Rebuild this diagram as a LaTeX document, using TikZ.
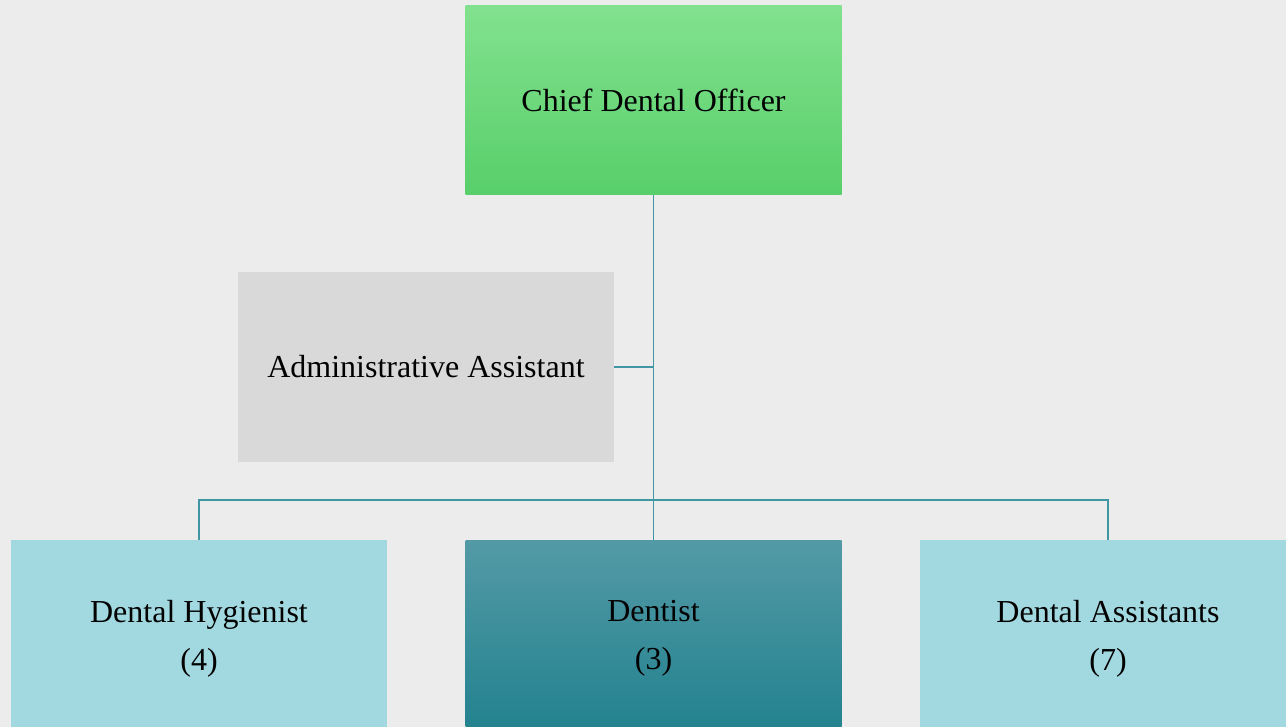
\documentclass[tikz,border=0pt]{standalone}
\usepackage{fontspec}
\setmainfont{Liberation Serif}
\usepackage{xcolor}
\definecolor{paper}{HTML}{ECECEC}
\definecolor{greentop}{HTML}{82E18E}
\definecolor{greenbot}{HTML}{58CF6A}
\definecolor{adminfill}{HTML}{D9D9D9}
\definecolor{lightteal}{HTML}{A2D8E0}
\definecolor{tealtop}{HTML}{539AA6}
\definecolor{tealbot}{HTML}{21818E}
\definecolor{linkteal}{HTML}{3E97A3}
\tikzset{
	box/.style={
			minimum width=376pt, minimum height=189pt, inner sep=0pt,
			align=center, font=\fontsize{32}{48}\selectfont
		},
	staff/.style={box, minimum height=197pt},
	link/.style={draw=linkteal, line width=1.5pt}
}

\begin{document}
\begin{tikzpicture}[x=1pt,y=-1pt]
		% paper background
		\fill[paper] (0,0) rectangle (1286,727);
		\useasboundingbox (0,0) rectangle (1286,727);
		\clip (0,0) rectangle (1286,727);

		% top of the chart
		\node[box, top color=greentop, bottom color=greenbot] (chief) at (653.5,100.5) {Chief Dental Officer};

		% assistant to the chief
		\node[box, fill=adminfill] (admin) at (426,367) {Administrative Assistant};

		% staff row
		\node[staff, fill=lightteal] (hygienist) at (199,638.5) {Dental Hygienist\\(4)};
		\node[staff, top color=tealtop, bottom color=tealbot] (dentist) at (653.5,638.5) {Dentist\\(3)};
		\node[staff, fill=lightteal] (assistants) at (1108,638.5) {Dental Assistants\\(7)};

		% links
		\coordinate (bus) at (653.5,500);
		\draw[link] (chief.south) -- (dentist.north);
		\draw[link] (admin.east) -- (admin.east -| chief.south);
		\draw[link] (hygienist.north) |- (bus) -| (assistants.north);
	\end{tikzpicture}
\end{document}
